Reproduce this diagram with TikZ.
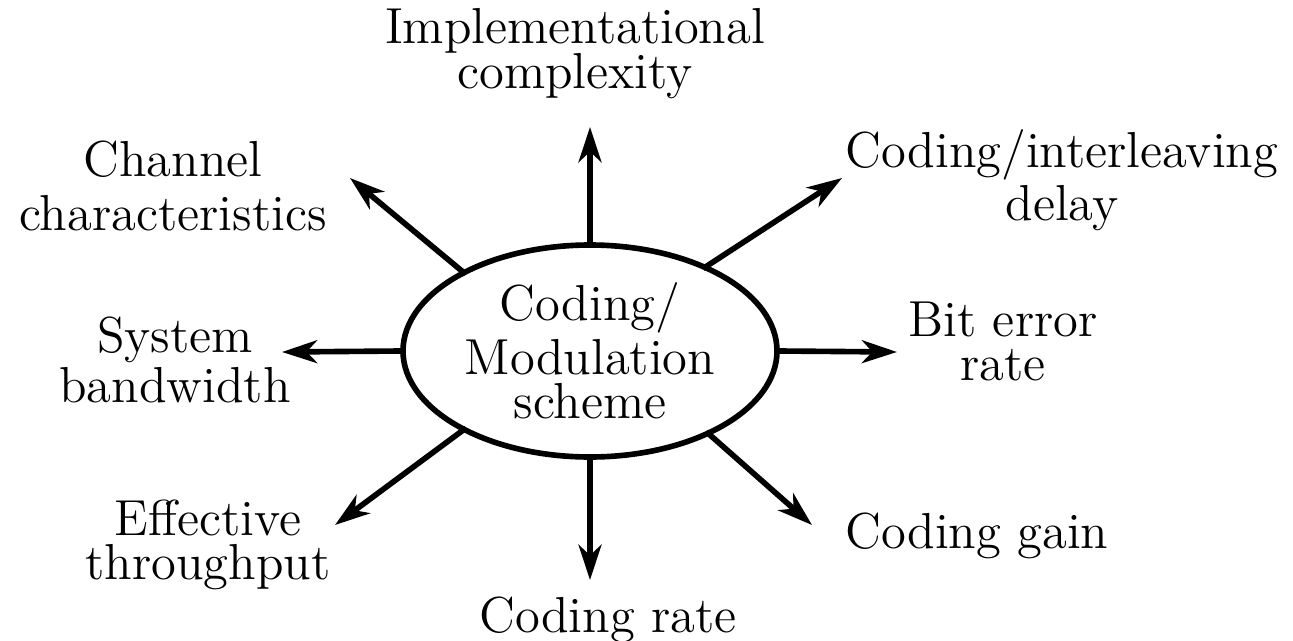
\documentclass[tikz,border=0pt]{standalone}
\usetikzlibrary{arrows.meta, positioning, shapes.geometric}

\begin{document}
\begin{tikzpicture}[
  lbl/.style={align=center, inner sep=0pt,
              font=\fontsize{14.4}{15.2}\selectfont},
  core/.style={draw, ellipse, line width=1.6pt, inner sep=0pt,
               minimum width=3.74cm, minimum height=2.12cm,
               align=center, font=\fontsize{14.4}{15.2}\selectfont},
  ray/.style={-{Stealth[length=10pt, width=6.5pt, inset=3pt]},
              line width=1.6pt, shorten <=-1.5pt}
]
  \useasboundingbox (0,0) rectangle (12.93,6.40);

  \node[core] (core) at (5.90, 2.89) {Coding/\\Modulation\\[-2.5pt]scheme};

  \node[lbl] (impl)  at (5.75, 5.865) {Implementational\\[-2.5pt]complexity};
  \node[lbl] (chan)  at (1.73, 4.54)  {Channel\\characteristics};
  \node[lbl] (delay) at (10.62, 4.60) {Coding/interleaving\\delay};
  \node[lbl] (sys)   at (1.75, 2.80)  {System\\[-1pt]bandwidth};
  \node[lbl] (ber)   at (10.03, 2.985) {Bit error\\[-2.5pt]rate};
  \node[lbl] (eff)   at (2.08, 0.95)  {Effective\\[-2.5pt]throughput};
  \node[lbl] (gain)  at (9.77, 1.045) {Coding gain};
  \node[lbl] (rate)  at (6.08, 0.205) {Coding rate};

  % arrow tips
  \coordinate (implTip)  at (5.90, 5.13);
  \coordinate (chanTip)  at (3.50, 4.62);
  \coordinate (delayTip) at (8.42, 4.62);
  \coordinate (sysTip)   at (2.82, 2.88);
  \coordinate (berTip)   at (8.97, 2.88);
  \coordinate (effTip)   at (3.35, 1.15);
  \coordinate (gainTip)  at (8.12, 1.15);
  \coordinate (rateTip)  at (5.90, 0.60);

  \draw[ray] (core.north) -- (implTip);
  \draw[ray] (core.148) -- (chanTip);
  \draw[ray] (core.36) -- (delayTip);
  \draw[ray] (core.west) -- (sysTip);
  \draw[ray] (core.east) -- (berTip);
  \draw[ray] (core.212) -- (effTip);
  \draw[ray] (core.-35) -- (gainTip);
  \draw[ray] (core.south) -- (rateTip);
\end{tikzpicture}
\end{document}
